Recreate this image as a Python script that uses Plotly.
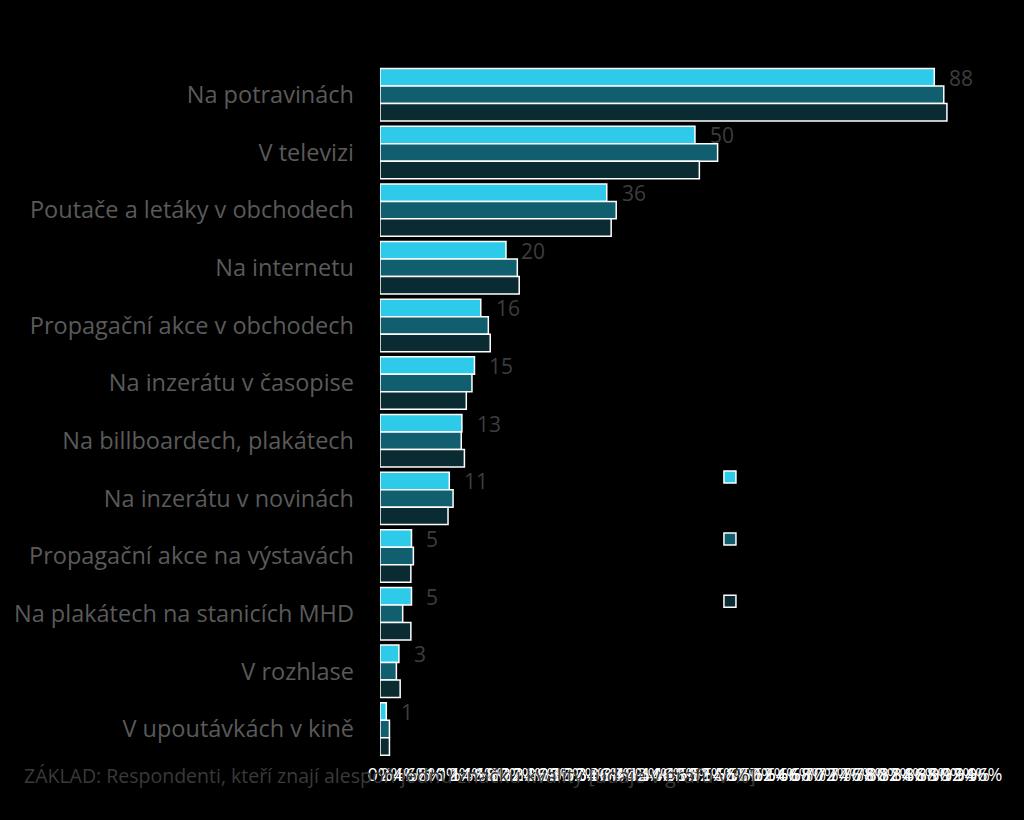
import plotly.graph_objects as go

categories = ["Na potravinách", "V televizi", "Poutače a letáky v obchodech", "Na internetu",
              "Propagační akce v obchodech", "Na inzerátu v časopise", "Na billboardech, plakátech",
              "Na inzerátu v novinách", "Propagační akce na výstavách", "Na plakátech na stanicích MHD",
              "V rozhlase", "V upoutávkách v kině"]
series1 = [88, 50, 36, 20, 16, 15, 13, 11, 5, 5, 3, 1]
series2 = [89.5, 53.6, 37.5, 21.8, 17.2, 14.6, 12.9, 11.6, 5.3, 3.6, 2.6, 1.5]
series3 = [90.0, 50.7, 36.7, 22.1, 17.5, 13.7, 13.4, 10.8, 4.9, 4.9, 3.2, 1.5]
series_names = ["", " ", "  "]
colors = ["#2ECAEA", "#115E6E", "#0B2B33"]
value_labels = [str(v) for v in series1]
footer = "ZÁKLAD: Respondenti, kteří znají alespoň jednu značku kvality [údaje v grafu v %]"

fig = go.Figure()
for i, (vals, col) in enumerate(zip([series1, series2, series3], colors)):
    fig.add_trace(go.Bar(
        y=categories, x=vals, orientation="h", name=series_names[i],
        marker=dict(color=col, line=dict(color="#FFFFFF", width=1.5)),
        legendgroup=f"g{i}", showlegend=True, hoverinfo="skip",
    ))

for cat, v, lab in zip(categories, series1, value_labels):
    fig.add_annotation(x=v, y=cat, text=lab, xref="x", yref="y", showarrow=False,
                       xanchor="left", yanchor="middle", xshift=13, yshift=17,
                       font=dict(family="Open Sans", size=21, color="#3d3d3d"))

# plot area: left 380, right 991 (97 units), top 66, bottom 762
fig.add_annotation(x=-358 / 611, y=-13 / 696, xref="paper", yref="paper", text=footer,
                   showarrow=False, xanchor="left", yanchor="middle",
                   font=dict(family="Open Sans", size=19.5, color="#3a3a3a"))

fig.update_layout(
    width=1024, height=820,
    paper_bgcolor="#000000", plot_bgcolor="#000000",
    barmode="group", bargap=0.09, bargroupgap=0.0,
    margin=dict(l=380, r=33, t=66, b=58),
    font=dict(family="Open Sans", color="#5a5a5a"),
    showlegend=True,
    legend=dict(x=0.540, y=0.32, xanchor="left", yanchor="middle",
                bgcolor="rgba(0,0,0,0)", font=dict(size=14, color="#000000"),
                tracegroupgap=41, traceorder="grouped"),
    xaxis=dict(range=[0, 97], dtick=2, ticksuffix="%", tickangle=0, showgrid=False,
               zeroline=False, showline=False,
               tickfont=dict(family="Open Sans", size=18, color="#FFFFFF")),
    yaxis=dict(autorange="reversed", showgrid=False, showline=False, ticks="",
               ticklabelstandoff=25,
               tickfont=dict(family="Open Sans", size=23.5, color="#5a5a5a")),
)

fig.write_html("out.html", config={"displayModeBar": False},
               post_script="document.body.style.margin='0';document.body.style.overflow='hidden';")
